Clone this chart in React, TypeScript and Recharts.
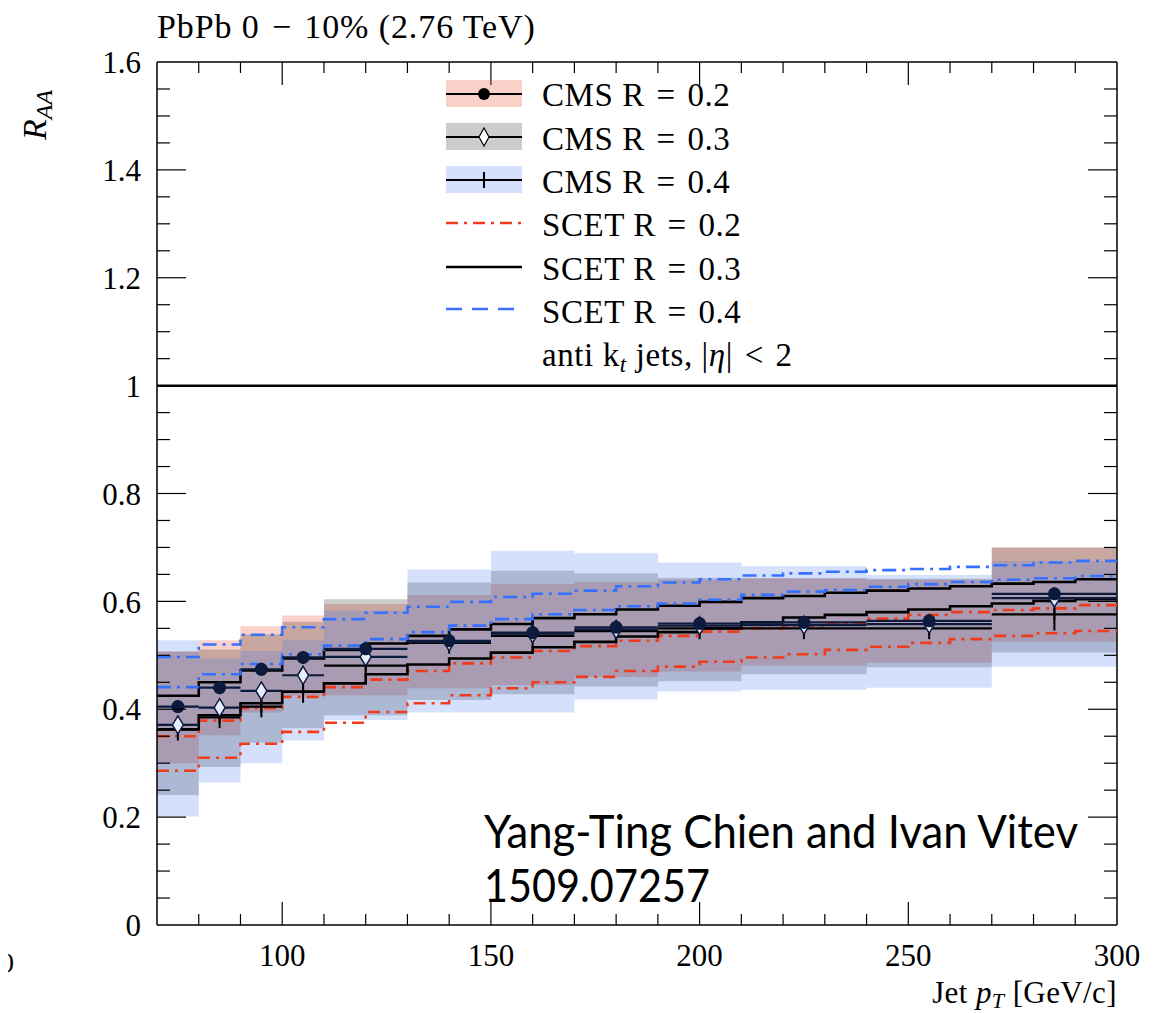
import React from "react";
import {
  ComposedChart,
  Area,
  Line,
  Scatter,
  XAxis,
  YAxis,
  ReferenceLine,
  ErrorBar,
} from "recharts";

// CMS jet p_T bins (GeV/c) and their centres
const cmsEdges = [70, 80, 90, 100, 110, 130, 150, 170, 190, 210, 240, 270, 300];
const cmsCenters = [75, 85, 95, 105, 120, 140, 160, 180, 200, 225, 255, 285];
const cmsHalfWidth = [5, 5, 5, 5, 10, 10, 10, 10, 10, 15, 15, 15];

// CMS R_AA, 0-10% PbPb
const cmsR02 = [0.405, 0.44, 0.474, 0.496, 0.512, 0.527, 0.542, 0.552, 0.559, 0.561, 0.564, 0.614];
const cmsR03 = [0.371, 0.403, 0.434, 0.463, 0.497, 0.525, 0.54, 0.548, 0.555, 0.556, 0.558, 0.606];
const cmsR04 = [0.362, 0.385, 0.405, 0.432, 0.481, 0.523, 0.536, 0.545, 0.55, 0.55, 0.55, 0.576];
const statR02 = [0.012, 0.012, 0.012, 0.012, 0.012, 0.012, 0.012, 0.012, 0.012, 0.012, 0.012, 0.012];
const statR03 = [0.012, 0.012, 0.012, 0.012, 0.012, 0.012, 0.012, 0.012, 0.012, 0.012, 0.012, 0.012];
const statR04 = [0.02, 0.02, 0.02, 0.02, 0.02, 0.02, 0.02, 0.02, 0.02, 0.02, 0.02, 0.03];

// systematic uncertainty boxes (low / high edge per bin)
const sysR02Lo = [0.3, 0.352, 0.394, 0.426, 0.426, 0.439, 0.445, 0.46, 0.47, 0.481, 0.486, 0.525];
const sysR02Hi = [0.507, 0.528, 0.554, 0.574, 0.595, 0.612, 0.632, 0.636, 0.64, 0.643, 0.64, 0.7];
const sysR03Lo = [0.241, 0.293, 0.338, 0.365, 0.389, 0.417, 0.428, 0.442, 0.452, 0.465, 0.478, 0.505];
const sysR03Hi = [0.507, 0.511, 0.539, 0.562, 0.604, 0.635, 0.657, 0.652, 0.644, 0.643, 0.642, 0.7];
const sysR04Lo = [0.201, 0.264, 0.3, 0.342, 0.38, 0.394, 0.394, 0.418, 0.433, 0.436, 0.44, 0.479];
const sysR04Hi = [0.528, 0.494, 0.508, 0.528, 0.583, 0.659, 0.694, 0.689, 0.672, 0.665, 0.649, 0.675];

// SCET predictions, 10 GeV steps from 70 to 300
const scetEdges = [70, 80, 90, 100, 110, 120, 130, 140, 150, 160, 170, 180, 190, 200, 210, 220, 230, 240, 250, 260, 270, 280, 290, 300];
const scetR02Hi = [0.35, 0.379, 0.402, 0.423, 0.441, 0.455, 0.471, 0.485, 0.496, 0.508, 0.517, 0.527, 0.536, 0.544, 0.55, 0.555, 0.56, 0.568, 0.575, 0.58, 0.584, 0.587, 0.593];
const scetR02Lo = [0.286, 0.31, 0.336, 0.358, 0.375, 0.395, 0.411, 0.426, 0.439, 0.45, 0.46, 0.471, 0.479, 0.488, 0.496, 0.502, 0.51, 0.516, 0.523, 0.53, 0.536, 0.541, 0.545];
const scetR03Hi = [0.425, 0.45, 0.472, 0.494, 0.51, 0.522, 0.536, 0.548, 0.558, 0.569, 0.576, 0.585, 0.592, 0.599, 0.606, 0.61, 0.616, 0.62, 0.624, 0.628, 0.633, 0.636, 0.641];
const scetR03Lo = [0.363, 0.389, 0.411, 0.433, 0.448, 0.465, 0.483, 0.494, 0.505, 0.515, 0.525, 0.535, 0.543, 0.55, 0.561, 0.57, 0.575, 0.58, 0.585, 0.591, 0.596, 0.601, 0.604];
const scetR04Hi = [0.497, 0.52, 0.538, 0.552, 0.567, 0.579, 0.59, 0.599, 0.608, 0.614, 0.62, 0.628, 0.635, 0.641, 0.648, 0.652, 0.655, 0.658, 0.66, 0.664, 0.667, 0.672, 0.675];
const scetR04Lo = [0.441, 0.465, 0.484, 0.502, 0.518, 0.53, 0.543, 0.555, 0.567, 0.576, 0.584, 0.591, 0.596, 0.603, 0.612, 0.618, 0.621, 0.627, 0.632, 0.636, 0.64, 0.643, 0.647];

const xTicks = [70, 80, 90, 100, 110, 120, 130, 140, 150, 160, 170, 180, 190, 200, 210, 220, 230, 240, 250, 260, 270, 280, 290, 300];
const yTicks = [0, 0.05, 0.1, 0.15, 0.2, 0.25, 0.3, 0.35, 0.4, 0.45, 0.5, 0.55, 0.6, 0.65, 0.7, 0.75, 0.8, 0.85, 0.9, 0.95, 1, 1.05, 1.1, 1.15, 1.2, 1.25, 1.3, 1.35, 1.4, 1.45, 1.5, 1.55, 1.6];

const PLOT_W = 960;
const PLOT_H = 863;
const SERIF = "'Liberation Serif', 'Times New Roman', serif";
const SP = "\u2004"; // spacing around relations

const RED = "#f03c1c";
const BLUE = "#3570ff";
const NAVY = "#0c1a3d";
const PINK_FILL = "rgb(235,90,60)";
const PINK_OP = 0.28;
const GRAY_FILL = "#000";
const GRAY_OP = 0.2;
const BLUE_FILL = "rgb(60,110,240)";
const BLUE_OP = 0.215;

const binOf = (x: number) => {
  for (let j = 0; j < cmsEdges.length - 1; j++) {
    if (x >= cmsEdges[j] && x < cmsEdges[j + 1]) return j;
  }
  return cmsEdges.length - 2;
};

// one row per 10 GeV edge; the last row repeats the final step
const rows = scetEdges.map((x, k) => {
  const i = Math.min(k, scetR02Hi.length - 1);
  const j = binOf(x);
  return {
    x,
    sys02: [sysR02Lo[j], sysR02Hi[j]],
    sys03: [sysR03Lo[j], sysR03Hi[j]],
    sys04: [sysR04Lo[j], sysR04Hi[j]],
    r02Hi: scetR02Hi[i],
    r02Lo: scetR02Lo[i],
    r03Hi: scetR03Hi[i],
    r03Lo: scetR03Lo[i],
    r04Hi: scetR04Hi[i],
    r04Lo: scetR04Lo[i],
  };
});

const points = (vals: number[], stat: number[]) =>
  cmsCenters.map((x, i) => ({ x, y: vals[i], ex: cmsHalfWidth[i], ey: stat[i] }));

const pts02 = points(cmsR02, statR02);
const pts03 = points(cmsR03, statR03);
const pts04 = points(cmsR04, statR04);

function XTick(props: any) {
  const { x, y, payload } = props;
  const v = Number(payload.value);
  const major = v % 50 === 0;
  const len = major ? 23 : 11;
  const inner = v > 70 && v < 300;
  return (
    <g>
      {inner && <line x1={x} y1={y} x2={x} y2={y - len} stroke="#000" strokeWidth={1.2} />}
      {inner && <line x1={x} y1={y - PLOT_H} x2={x} y2={y - PLOT_H + len} stroke="#000" strokeWidth={1.2} />}
      {major && (
        <text x={x} y={y + 41} textAnchor="middle" fontFamily={SERIF} fontSize={31} fill="#000">
          {v}
        </text>
      )}
    </g>
  );
}

function YTick(props: any) {
  const { x, y, payload } = props;
  const v = Number(payload.value);
  const major = Math.abs(v * 5 - Math.round(v * 5)) < 1e-6;
  const len = major ? 29 : 13;
  const inner = v > 0 && v < 1.6;
  const label = v === 0 ? "0" : Number.isInteger(v) ? String(v) : v.toFixed(1);
  return (
    <g>
      {inner && <line x1={x} y1={y} x2={x + len} y2={y} stroke="#000" strokeWidth={1.2} />}
      {inner && <line x1={x + PLOT_W} y1={y} x2={x + PLOT_W - len} y2={y} stroke="#000" strokeWidth={1.2} />}
      {major && (
        <text x={x - 16} y={y} dy="0.36em" textAnchor="end" fontFamily={SERIF} fontSize={31} fill="#000">
          {label}
        </text>
      )}
    </g>
  );
}

const Dot = (p: any) => <circle cx={p.cx} cy={p.cy} r={6.5} fill={NAVY} />;
const Diamond = (p: any) => (
  <polygon
    points={`${p.cx},${p.cy - 9} ${p.cx + 5.5},${p.cy} ${p.cx},${p.cy + 9} ${p.cx - 5.5},${p.cy}`}
    fill="#e6edfc"
    stroke={NAVY}
    strokeWidth={1.5}
  />
);
const Plus = (p: any) => (
  <line x1={p.cx} y1={p.cy - 6} x2={p.cx} y2={p.cy + 6} stroke="#000" strokeWidth={2} />
);

function Legend() {
  const x0 = 446;
  const x1 = 522;
  const xm = 484;
  const tx = 542;
  const fs = 33;
  return (
    <g fontFamily={SERIF} fontSize={fs} fill="#000" letterSpacing={0.6}>
      <rect x={x0} y={80} width={x1 - x0} height={27} fill={PINK_FILL} fillOpacity={PINK_OP} />
      <line x1={x0} y1={94} x2={x1} y2={94} stroke="#000" strokeWidth={2.2} />
      <circle cx={xm} cy={94} r={6} fill="#000" />
      <text x={tx} y={106}>CMS R{SP}={SP}0.2</text>

      <rect x={x0} y={123} width={x1 - x0} height={27} fill={GRAY_FILL} fillOpacity={GRAY_OP} />
      <line x1={x0} y1={137} x2={x1} y2={137} stroke="#000" strokeWidth={2.2} />
      <polygon points={`${xm},${128} ${xm + 5},${137} ${xm},${146} ${xm - 5},${137}`} fill="#fff" stroke="#000" strokeWidth={1.2} />
      <text x={tx} y={150}>CMS R{SP}={SP}0.3</text>

      <rect x={x0} y={166} width={x1 - x0} height={27} fill={BLUE_FILL} fillOpacity={BLUE_OP} />
      <line x1={x0} y1={180} x2={x1} y2={180} stroke="#000" strokeWidth={2.2} />
      <line x1={xm} y1={172} x2={xm} y2={188} stroke="#000" strokeWidth={2} />
      <text x={tx} y={193}>CMS R{SP}={SP}0.4</text>

      <line x1={x0} y1={223} x2={x1} y2={223} stroke={RED} strokeWidth={2.6} strokeDasharray="12 6 3 6" />
      <text x={tx} y={236}>SCET R{SP}={SP}0.2</text>

      <line x1={x0} y1={267} x2={x1} y2={267} stroke="#000" strokeWidth={2.6} />
      <text x={tx} y={280}>SCET R{SP}={SP}0.3</text>

      <line x1={x0} y1={309} x2={x1} y2={309} stroke={BLUE} strokeWidth={2.6} strokeDasharray="16 10" />
      <text x={tx} y={323}>SCET R{SP}={SP}0.4</text>

      <text x={tx} y={366}>
        anti k<tspan fontStyle="italic" fontSize={23} dy={6}>t</tspan>
        <tspan dy={-6}> jets, |</tspan>
        <tspan fontStyle="italic">η</tspan>
        <tspan>|{SP}&lt;{SP}2</tspan>
      </text>
    </g>
  );
}

function Labels() {
  return (
    <g fontFamily={SERIF} fill="#000">
      <text x={157} y={38} fontSize={34} letterSpacing={0.9}>
        PbPb 0{SP}−{SP}10% (2.76 TeV)
      </text>
      <text transform="rotate(-90 46 115)" x={46} y={115} textAnchor="middle" fontSize={34}>
        <tspan fontStyle="italic">R</tspan>
        <tspan fontStyle="italic" fontSize={24} dy={6}>AA</tspan>
      </text>
      <text x={1117} y={1003} textAnchor="end" fontSize={31} letterSpacing={0.4}>
        Jet <tspan fontStyle="italic">p</tspan>
        <tspan fontStyle="italic" fontSize={22} dy={5}>T</tspan>
        <tspan dy={-5}> [GeV/c]</tspan>
      </text>
      <text x={0} y={972} fontSize={28}>0</text>
      <g fontFamily="Lato, 'Open Sans', sans-serif" fontSize={46}>
        <text x={484} y={848} textLength={594} lengthAdjust="spacingAndGlyphs">
          Yang-Ting Chien and Ivan Vitev
        </text>
        <text x={484} y={902} textLength={226} lengthAdjust="spacingAndGlyphs">
          1509.07257
        </text>
      </g>
    </g>
  );
}

export default function App() {
  return (
    <div style={{ position: "relative", width: 1161, height: 1005 }}>
      <ComposedChart
        width={1161}
        height={1005}
        data={rows}
        margin={{ top: 54, right: 52, left: 69, bottom: 28 }}
      >
        <XAxis
          dataKey="x"
          type="number"
          domain={[70, 300]}
          ticks={xTicks}
          interval={0}
          allowDataOverflow
          height={60}
          tickSize={0}
          tickMargin={0}
          tickLine={false}
          axisLine={{ stroke: "#000", strokeWidth: 1.5 }}
          tick={XTick}
        />
        <YAxis
          type="number"
          domain={[0, 1.6]}
          ticks={yTicks}
          interval={0}
          allowDataOverflow
          width={80}
          tickSize={0}
          tickMargin={0}
          tickLine={false}
          axisLine={{ stroke: "#000", strokeWidth: 1.5 }}
          tick={YTick}
        />
        <ReferenceLine y={1.6} stroke="#000" strokeWidth={1.5} />
        <ReferenceLine x={300} stroke="#000" strokeWidth={1.5} />

        <Area dataKey="sys02" type="stepAfter" fill={PINK_FILL} fillOpacity={PINK_OP} stroke="none" isAnimationActive={false} />
        <Area dataKey="sys03" type="stepAfter" fill={GRAY_FILL} fillOpacity={GRAY_OP} stroke="none" isAnimationActive={false} />
        <Area dataKey="sys04" type="stepAfter" fill={BLUE_FILL} fillOpacity={BLUE_OP} stroke="none" isAnimationActive={false} />

        <ReferenceLine y={1} stroke="#000" strokeWidth={2.5} />

        <Line dataKey="r02Hi" type="stepAfter" stroke={RED} strokeWidth={2.6} strokeDasharray="12 6 3 6" dot={false} isAnimationActive={false} />
        <Line dataKey="r02Lo" type="stepAfter" stroke={RED} strokeWidth={2.6} strokeDasharray="12 6 3 6" dot={false} isAnimationActive={false} />
        <Line dataKey="r03Hi" type="stepAfter" stroke="#000" strokeWidth={2.6} dot={false} isAnimationActive={false} />
        <Line dataKey="r03Lo" type="stepAfter" stroke="#000" strokeWidth={2.6} dot={false} isAnimationActive={false} />
        <Line dataKey="r04Hi" type="stepAfter" stroke={BLUE} strokeWidth={2.6} strokeDasharray="14 6 3 6" dot={false} isAnimationActive={false} />
        <Line dataKey="r04Lo" type="stepAfter" stroke={BLUE} strokeWidth={2.6} strokeDasharray="14 6 3 6" dot={false} isAnimationActive={false} />

        <Scatter data={pts04} dataKey="y" shape={Plus} isAnimationActive={false}>
          <ErrorBar dataKey="ex" direction="x" width={0} stroke="#000" strokeWidth={2.2} isAnimationActive={false} />
          <ErrorBar dataKey="ey" direction="y" width={0} stroke="#000" strokeWidth={2} isAnimationActive={false} />
        </Scatter>
        <Scatter data={pts03} dataKey="y" shape={Diamond} isAnimationActive={false}>
          <ErrorBar dataKey="ex" direction="x" width={0} stroke={NAVY} strokeWidth={2.2} isAnimationActive={false} />
          <ErrorBar dataKey="ey" direction="y" width={0} stroke={NAVY} strokeWidth={2} isAnimationActive={false} />
        </Scatter>
        <Scatter data={pts02} dataKey="y" shape={Dot} isAnimationActive={false}>
          <ErrorBar dataKey="ex" direction="x" width={0} stroke={NAVY} strokeWidth={2.2} isAnimationActive={false} />
          <ErrorBar dataKey="ey" direction="y" width={0} stroke={NAVY} strokeWidth={2} isAnimationActive={false} />
        </Scatter>
      </ComposedChart>
      <svg
        width={1169}
        height={1013}
        style={{ position: "absolute", left: -8, top: -8, pointerEvents: "none", overflow: "visible" }}
      >
        <Legend />
        <Labels />
      </svg>
    </div>
  );
}
